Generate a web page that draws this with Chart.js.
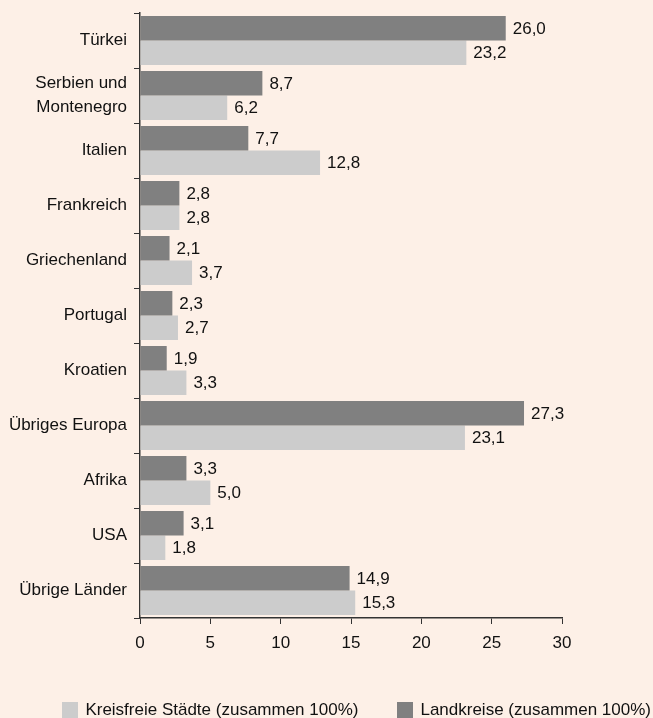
<!DOCTYPE html>
<html>
<head>
<meta charset="utf-8">
<script src="https://cdn.jsdelivr.net/npm/chart.js@4"></script>
<style>
  html, body { margin: 0; padding: 0; background: #fdf0e7; }
  #wrap { position: relative; width: 653px; height: 718px; }
  #legend {
    position: absolute; right: 2px; top: 700px;
    display: flex; gap: 39px;
    font: 17px "Liberation Sans", Arial, Helvetica, sans-serif; color: #111;
  }
  #legend .item { display: flex; align-items: center; line-height: 20px; }
  #legend .box { width: 16px; height: 16px; margin-right: 7px; }
</style>
</head>
<body>
<div id="wrap">
  <canvas id="chart"></canvas>
  <div id="legend"></div>
</div>
<script>
// Herkunftsländer
const categories = [
    'Türkei', ['Serbien und', 'Montenegro'], 'Italien', 'Frankreich', 'Griechenland',
    'Portugal', 'Kroatien', 'Übriges Europa', 'Afrika', 'USA', 'Übrige Länder'
];
const landkreise = [26.0, 8.7, 7.7, 2.8, 2.1, 2.3, 1.9, 27.3, 3.3, 3.1, 14.9];
const kreisfreie = [23.2, 6.2, 12.8, 2.8, 3.7, 2.7, 3.3, 23.1, 5.0, 1.8, 15.3];
const xTicks = [0, 5, 10, 15, 20, 25, 30];

const fontFamily = '"Liberation Sans", Arial, Helvetica, sans-serif';

// Werte rechts neben den Balken
const valueLabels = {
    id: 'valueLabels',
    afterDatasetsDraw(chart) {
        const ctx = chart.ctx;
        ctx.save();
        ctx.font = '17px ' + fontFamily;
        ctx.fillStyle = '#111';
        ctx.textBaseline = 'middle';
        ctx.textAlign = 'left';
        chart.data.datasets.forEach((ds, i) => {
            chart.getDatasetMeta(i).data.forEach((bar, j) => {
                const txt = ds.data[j].toFixed(1).replace('.', ',');
                ctx.fillText(txt, bar.x + 7, bar.y + 1);
            });
        });
        ctx.restore();
    }
};

const chart = new Chart(document.getElementById('chart'), {
    type: 'bar',
    data: {
        labels: categories,
        datasets: [
            {
                label: 'Landkreise (zusammen 100%)',
                data: landkreise,
                backgroundColor: '#808080',
                categoryPercentage: 0.89,
                barPercentage: 1.0
            },
            {
                label: 'Kreisfreie Städte (zusammen 100%)',
                data: kreisfreie,
                backgroundColor: '#cccccc',
                categoryPercentage: 0.89,
                barPercentage: 1.0
            }
        ]
    },
    options: {
        indexAxis: 'y',
        responsive: true,
        maintainAspectRatio: false,
        animation: false,
        layout: { padding: { top: 13, right: 91, left: 0, bottom: 0 } },
        scales: {
            x: {
                min: 0,
                max: 30,
                afterBuildTicks: (scale) => { scale.ticks = xTicks.map(v => ({ value: v })); },
                grid: { drawOnChartArea: false, drawTicks: true, tickLength: 6, color: '#333', lineWidth: 1 },
                border: { color: '#333', width: 1.5 },
                ticks: { color: '#111', font: { size: 17, family: fontFamily }, padding: 9 },
                afterFit: (scale) => { scale.height = 100; }
            },
            y: {
                grid: { drawOnChartArea: false, drawTicks: true, tickLength: 6, color: '#333', offset: true },
                border: { color: '#333', width: 1.5 },
                ticks: { color: '#111', font: { size: 17, family: fontFamily, lineHeight: 1.4 }, padding: 7 },
                afterFit: (scale) => {
                    scale.width = 140;
                    scale.paddingTop = 0;
                    scale.paddingBottom = 0;
                }
            }
        },
        plugins: {
            legend: { display: false },
            tooltip: { enabled: false }
        }
    },
    plugins: [valueLabels]
});

// Legende (Reihenfolge wie im Original: erst Kreisfreie Städte)
const legendEl = document.getElementById('legend');
chart.data.datasets.slice().reverse().forEach(ds => {
    const item = document.createElement('div');
    item.className = 'item';
    const box = document.createElement('span');
    box.className = 'box';
    box.style.background = ds.backgroundColor;
    item.appendChild(box);
    item.appendChild(document.createTextNode(ds.label));
    legendEl.appendChild(item);
});
</script>
</body>
</html>
